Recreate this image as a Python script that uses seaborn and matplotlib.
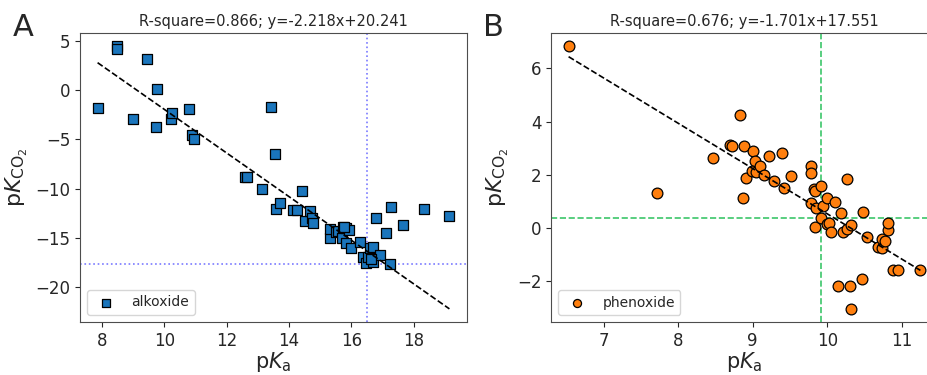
import numpy as np
import pandas as pd
import matplotlib
matplotlib.use("Agg")
import matplotlib.pyplot as plt
import seaborn as sns

# panel A: alkoxide
alk_pka = [7.86, 8.49, 8.49, 9.00, 9.43, 9.75, 9.78, 10.23, 10.26, 10.78, 10.90, 10.94,
           12.58, 12.67, 13.15, 13.42, 13.55, 13.60, 13.70, 14.13, 14.26, 14.43, 14.52,
           14.67, 14.74, 14.77, 15.31, 15.33, 15.52, 15.57, 15.71, 15.73, 15.82, 15.84,
           15.93, 16.00, 16.27, 16.38, 16.48, 16.54, 16.59, 16.70, 16.70, 16.78, 16.91,
           17.12, 17.23, 17.26, 17.66, 18.33, 19.15, 15.78, 16.62]
alk_pkco2 = [-1.80, 4.49, 4.15, -2.96, 3.20, -3.77, 0.17, -2.89, -2.31, -1.90, -4.59, -4.93,
             -8.87, -8.87, -10.00, -1.70, -6.46, -12.10, -11.50, -12.17, -12.20, -10.20, -13.30,
             -12.30, -12.95, -13.50, -15.00, -14.15, -14.38, -14.29, -15.06, -13.87, -14.04, -15.57,
             -14.20, -16.08, -15.40, -16.94, -17.60, -16.94, -16.08, -15.90, -17.45, -13.00, -16.77,
             -14.49, -17.68, -11.90, -13.70, -12.07, -12.79, -13.90, -17.20]
alk_fit = (-2.218, 20.241)
alk_r2 = 0.866
alk_ref = (16.5, -17.7)

# panel B: phenoxide
phe_pka = [6.53, 7.71, 8.47, 8.70, 8.72, 8.83, 8.88, 8.87, 8.91, 9.00, 9.03, 8.99, 9.05,
           9.10, 9.15, 9.22, 9.28, 9.39, 9.42, 9.51, 9.78, 9.78, 9.82, 9.84, 9.91, 9.78,
           9.85, 9.94, 9.84, 9.91, 10.00, 10.10, 10.00, 10.02, 10.05, 10.18, 10.26, 10.21,
           10.26, 10.32, 10.48, 10.53, 10.68, 10.73, 10.74, 10.78, 10.82, 10.82, 10.88,
           10.95, 11.25, 10.15, 10.31, 10.47, 10.32]
phe_pkco2 = [6.84, 1.31, 2.63, 3.13, 3.10, 4.26, 3.07, 1.12, 1.87, 2.90, 2.53, 2.15, 2.13,
             2.34, 2.00, 2.73, 1.79, 2.84, 1.50, 1.96, 2.34, 2.06, 1.46, 1.40, 1.60, 0.96,
             0.77, 0.84, 0.03, 0.39, 1.14, 0.99, 0.15, 0.20, -0.14, 0.59, 1.85, -0.16,
             -0.04, 0.11, 0.62, -0.33, -0.70, -0.74, -0.42, -0.49, -0.05, 0.18, -1.58,
             -1.58, -1.58, -2.18, -2.18, -1.90, -3.03]
phe_fit = (-1.701, 17.551)
phe_r2 = 0.676
phe_ref = (9.91, 0.37)

sns.set_style("ticks")
plt.rcParams['font.family'] = ['DejaVu Sans']

fig = plt.figure(figsize=(9.27, 3.75), dpi=100)
axA = fig.add_axes([80 / 927, 53 / 375, 387 / 927, 289 / 375])
axB = fig.add_axes([551 / 927, 53 / 375, 387 / 927, 289 / 375])

panels = [
    (axA, alk_pka, alk_pkco2, alk_fit, alk_r2, alk_ref, 'alkoxide', 's', '#1a75bc',
     dict(color='#7a7aff', ls=':', lw=1.2), 'A'),
    (axB, phe_pka, phe_pkco2, phe_fit, phe_r2, phe_ref, 'phenoxide', 'o', '#ff7f0e',
     dict(color='#3cc66a', ls='--', lw=1.2), 'B'),
]

for ax, xs, ys, fit, r2, ref, name, mk, col, refstyle, letter in panels:
    df = pd.DataFrame({'pKa': xs, 'pKco2': ys})
    sns.scatterplot(data=df, x='pKa', y='pKco2', ax=ax, marker=mk, color=col,
                    edgecolor='black', linewidth=0.9, s=60, label=name, zorder=3)
    xfit = np.array([df['pKa'].min(), df['pKa'].max()])
    ax.plot(xfit, fit[0] * xfit + fit[1], color='black', ls='--', lw=1.2, zorder=4)
    ax.axvline(ref[0], zorder=1, **refstyle)
    ax.axhline(ref[1], zorder=1, **refstyle)
    ax.set_title('R-square=%.3f; y=%.3fx+%.3f' % (r2, fit[0], fit[1]), fontsize=10.5, pad=5)
    ax.set_xlabel(r'p$K_\mathrm{a}$', fontsize=15, labelpad=0)
    ax.set_ylabel(r'p$K_{\mathrm{CO_2}}$', fontsize=16)
    ax.tick_params(labelsize=12)
    ax.legend(loc='lower left', fontsize=10, markerscale=0.75, handletextpad=0.8,
              borderpad=0.4)
    ax.text(-0.175, 1.07, letter, transform=ax.transAxes, fontsize=22, va='top', ha='left')
    for sp in ax.spines.values():
        sp.set_color('0.3')

axA.set_yticks([5, 0, -5, -10, -15, -20])
axA.set_xticks([8, 10, 12, 14, 16, 18])
axB.set_yticks([6, 4, 2, 0, -2])
axB.set_xticks([7, 8, 9, 10, 11])

fig.savefig('out.png', dpi=100)
